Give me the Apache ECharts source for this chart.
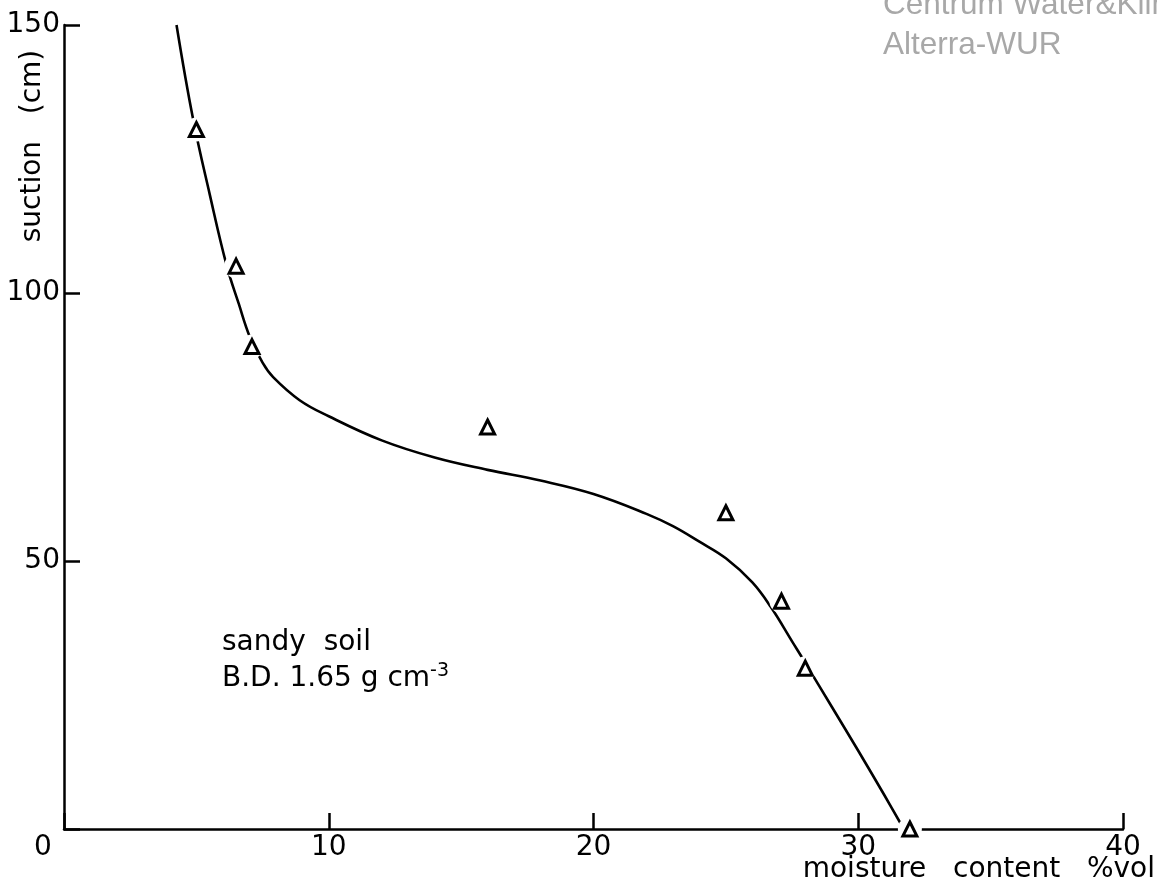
<!DOCTYPE html>
<html>
<head>
<meta charset="utf-8">
<script src="https://cdn.jsdelivr.net/npm/echarts@6/dist/echarts.min.js"></script>
<style>html,body{margin:0;padding:0;background:#fff}#c{width:1157px;height:895px}</style>
</head>
<body>
<div id="c"></div>
<script>
// measured points (moisture content %vol, suction cm)
const pointX = [5.0, 6.5, 7.1, 16.0, 25.0, 27.1, 28.0, 31.95];
const pointY = [130.5, 105, 90, 75, 59, 42.5, 30, 0];
// fitted curve
const curveX = [4.25, 4.87, 5.5, 6.14, 6.6, 7.02, 7.5, 7.9, 8.9, 10, 12, 14, 16, 18, 20, 22, 23, 24, 25, 26, 26.7, 27.5, 28, 29, 30, 31, 31.72];
const curveY = [150, 132.6, 118.5, 105.2, 98, 91.8, 87, 84.3, 80, 77, 72.5, 69.3, 67, 65, 62.5, 58.8, 56.5, 53.6, 50.5, 46, 41.4, 35, 31, 22.8, 14.6, 6.2, 0];
const xTicks = [0, 10, 20, 30, 40];
const yTicks = [0, 50, 100, 150];

const chart = echarts.init(document.getElementById('c'));
const font = 'DejaVu Sans';
const pts = pointX.map((x, i) => [x, pointY[i]]);
const curve = curveX.map((x, i) => [x, curveY[i]]);

chart.setOption({
  backgroundColor: '#fff',
  animation: false,
  grid: { left: 64, right: 34, top: 25, bottom: 66 },
  xAxis: {
    type: 'value', min: xTicks[0], max: xTicks[xTicks.length - 1], interval: 10,
    axisLine: { lineStyle: { color: '#000', width: 2.5 } },
    axisTick: { inside: true, length: 16, lineStyle: { color: '#000', width: 2.5 } },
    splitLine: { show: false },
    axisLabel: {
      color: '#000', fontFamily: font, fontSize: 28, margin: 5,
      formatter: v => v === 0 ? '{o|0}' : String(v),
      rich: { o: { fontFamily: font, fontSize: 28, color: '#000', padding: [0, 42, 0, 0] } }
    }
  },
  yAxis: {
    type: 'value', min: yTicks[0], max: yTicks[yTicks.length - 1], interval: 50,
    axisLine: { lineStyle: { color: '#000', width: 2.5 } },
    axisTick: { inside: true, length: 16, lineStyle: { color: '#000', width: 2.5 } },
    splitLine: { show: false },
    axisLabel: {
      color: '#000', fontFamily: font, fontSize: 28, margin: 4,
      formatter: v => v === 0 ? '' : String(v)
    }
  },
  series: [
    {
      type: 'line', data: curve, smooth: 0.4, symbol: 'none',
      lineStyle: { color: '#000', width: 2.6 }, z: 2
    },
    {
      type: 'scatter', data: pts, symbol: 'circle', symbolSize: 24,
      itemStyle: { color: '#fff', opacity: 1 }, z: 3, silent: true
    },
    {
      type: 'scatter', data: pts, symbol: 'triangle', symbolSize: [14, 14],
      itemStyle: { color: '#fff', borderColor: '#000', borderWidth: 3, opacity: 1 }, z: 4
    }
  ],
  graphic: [
    {
      type: 'text', left: 883, top: -15,
      style: { text: 'Centrum Water&Klimaat\nAlterra-WUR', font: '31.5px "Liberation Sans", Arial, sans-serif', fill: '#a8a8a8', lineHeight: 40 }
    },
    {
      type: 'text', x: 33, y: 146, rotation: Math.PI / 2,
      style: { text: 'suction   (cm)', font: '28px "DejaVu Sans"', fill: '#000', align: 'center', verticalAlign: 'middle' }
    },
    {
      type: 'text', right: 2, top: 856,
      style: { text: 'moisture   content   %vol', font: '28px "DejaVu Sans"', fill: '#000' }
    },
    {
      type: 'text', left: 222, top: 625,
      style: {
        text: 'sandy  soil\n{b|B.D. 1.65 g cm}{s|-3}',
        font: '28px "DejaVu Sans"', fill: '#000', lineHeight: 36,
        rich: {
          b: { font: '28px "DejaVu Sans"', fill: '#000' },
          s: { font: '19px "DejaVu Sans"', fill: '#000', padding: [0, 0, 16, 0] }
        }
      }
    }
  ]
});
</script>
</body>
</html>
